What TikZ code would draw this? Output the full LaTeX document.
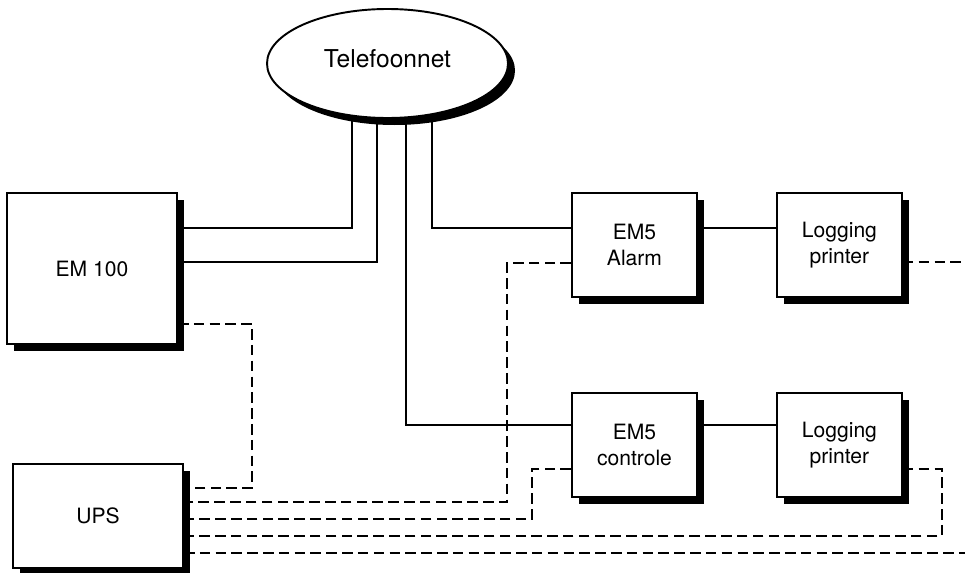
\documentclass[tikz,border=0pt]{standalone}
\usepackage{fontspec}
\setmainfont{TeX Gyre Heros}
\usetikzlibrary{positioning,shapes.geometric,shadows,backgrounds}

\begin{document}
\begin{tikzpicture}[font=\fontsize{12}{14.5}\selectfont,
	schaduw/.style={drop shadow={shadow xshift=0.14cm,shadow yshift=-0.14cm,opacity=1,fill=black}},
	kast/.style={draw,line width=1.1pt,fill=white,schaduw,align=center,minimum height=2.08cm},
	wolk/.style={ellipse,draw,line width=1.1pt,fill=white,schaduw},
	lijn/.style={line width=1.1pt},
	stippel/.style={line width=1.1pt,dash pattern=on 6pt off 3pt}]

\useasboundingbox (0,0) rectangle (19.3,-11.46);

\node[wolk,minimum width=4.82cm,minimum height=2.18cm,text depth=0.2cm,font=\fontsize{14}{16}\selectfont] (net) at (7.75,-1.27) {Telefoonnet};

\node[kast,minimum width=3.4cm,minimum height=3.02cm] (em100) at (1.84,-5.37) {EM 100};
\node[kast,minimum width=3.4cm] (ups) at (1.96,-10.32) {UPS};

\node[kast,minimum width=2.5cm] (alarm) at (12.69,-4.9) {EM5\\Alarm};
\node[kast,minimum width=2.5cm,right=1.56cm of alarm] (printer1) {Logging\\printer};
\node[kast,minimum width=2.5cm,below=1.88cm of alarm] (controle) {EM5\\controle};
\node[kast,minimum width=2.5cm,right=1.56cm of controle] (printer2) {Logging\\printer};

\begin{scope}[on background layer]

\draw[lijn] ([yshift=0.81cm]em100.east) -| ([xshift=-0.71cm]net.center);
\draw[lijn] ([yshift=0.13cm]em100.east) -| ([xshift=-0.21cm]net.center);
\draw[lijn] ([yshift=0.34cm]alarm.west) -| ([xshift=0.89cm]net.center);
\draw[lijn] ([yshift=0.4cm]controle.west) -| ([xshift=0.37cm]net.center);

\draw[lijn] ([yshift=0.34cm]alarm.east) -- ([yshift=0.34cm]printer1.west);
\draw[lijn] ([yshift=0.4cm]controle.east) -- ([yshift=0.4cm]printer2.west);

\draw[stippel] ([yshift=-1.11cm]em100.east) -- ++(1.48,0) |- ([yshift=0.56cm]ups.east);
\draw[stippel] ([yshift=-0.36cm]alarm.west) -- ++(-1.28,0) |- ([yshift=0.28cm]ups.east);
\draw[stippel] ([yshift=-0.48cm]controle.west) -- ++(-0.78,0) |- ([yshift=-0.06cm]ups.east);
\draw[stippel] ([yshift=-0.48cm]printer2.east) -- ++(0.78,0) |- ([yshift=-0.4cm]ups.east);
\draw[stippel] ([yshift=-0.74cm]ups.east) -- ++(15.7,0);
\draw[stippel] ([yshift=-0.34cm]printer1.east) -- ++(1.3,0);

\end{scope}

\end{tikzpicture}
\end{document}
